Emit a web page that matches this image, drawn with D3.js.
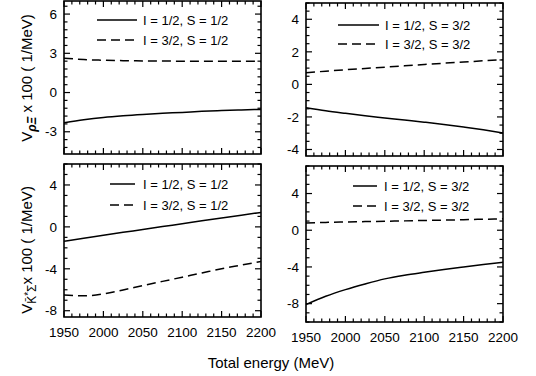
<!DOCTYPE html>
<html><head><meta charset="utf-8">
<script src="https://cdn.jsdelivr.net/npm/d3@7"></script>
<style>
body{margin:0;background:#fff;}
text{font-family:"Liberation Sans",Arial,Helvetica,sans-serif;fill:#000;}
</style></head><body>
<svg id="c" width="536" height="376"></svg>
<script>
// ---- data ----
const energy = [1950, 1975, 2000, 2025, 2050, 2075, 2100, 2125, 2150, 2175, 2200];
// top-left: rho Xi, S = 1/2
const tlSolid  = [-2.31, -2.08, -1.90, -1.77, -1.67, -1.59, -1.52, -1.44, -1.38, -1.33, -1.29];
const tlDashed = [2.63, 2.52, 2.47, 2.44, 2.42, 2.41, 2.40, 2.40, 2.39, 2.39, 2.38];
// top-right: rho Xi, S = 3/2
const trSolid  = [-1.43, -1.62, -1.78, -1.93, -2.06, -2.19, -2.32, -2.46, -2.62, -2.79, -2.98];
const trDashed = [0.72, 0.81, 0.90, 0.98, 1.06, 1.14, 1.22, 1.30, 1.37, 1.45, 1.52];
// bottom-left: Kbar* Sigma, S = 1/2
const blSolid  = [-1.37, -1.09, -0.80, -0.52, -0.25, 0.03, 0.30, 0.58, 0.85, 1.12, 1.38];
const blDashed = [-6.50, -6.58, -6.40, -6.02, -5.60, -5.20, -4.80, -4.40, -4.00, -3.65, -3.30];
// bottom-right: Kbar* Sigma, S = 3/2
const brSolid  = [-8.10, -7.20, -6.47, -5.85, -5.30, -4.90, -4.58, -4.28, -4.00, -3.73, -3.49];
const brDashed = [0.80, 0.85, 0.90, 0.94, 0.98, 1.02, 1.06, 1.10, 1.15, 1.20, 1.24];

const xTicks = [1950, 2000, 2050, 2100, 2150, 2200];
const legendS12 = ["I = 1/2, S = 1/2", "I = 3/2, S = 1/2"];
const legendS32 = ["I = 1/2, S = 3/2", "I = 3/2, S = 3/2"];

const panels = [
  {x0:64, x1:261, y0:1, y1:154, dom:[-4.7,7], ticks:[-3,0,3,6], minor:0.6,
   solid:tlSolid, dashed:tlDashed, leg:legendS12, lx0:97, lx1:137, ltx:143, ly:[20,40], xlabels:false},
  {x0:306, x1:503, y0:3, y1:156, dom:[-4.4,5], ticks:[-4,-2,0,2,4], minor:0.5,
   solid:trSolid, dashed:trDashed, leg:legendS32, lx0:338, lx1:379, ltx:385, ly:[25,44], xlabels:false},
  {x0:64, x1:261, y0:164, y1:317, dom:[-8.6,6], ticks:[-8,-4,0,4], minor:1,
   solid:blSolid, dashed:blDashed, leg:legendS12, lx0:110, lx1:135, ltx:143, ly:[184,205], xlabels:true},
  {x0:306, x1:503, y0:166, y1:322, dom:[-10,7], ticks:[-8,-4,0,4], minor:1,
   solid:brSolid, dashed:brDashed, leg:legendS32, lx0:353, lx1:377, ltx:384, ly:[186,206], xlabels:true}
];

const svg = d3.select("#c");
const DASH = "9,5";

panels.forEach((p, i) => {
  const x = d3.scaleLinear().domain([1950, 2200]).range([p.x0, p.x1]);
  const y = d3.scaleLinear().domain(p.dom).range([p.y1, p.y0]);
  const g = svg.append("g");
  const cid = "clip" + i;
  svg.append("clipPath").attr("id", cid).append("rect")
    .attr("x", p.x0).attr("y", p.y0).attr("width", p.x1 - p.x0).attr("height", p.y1 - p.y0);

  const minorX = d3.range(1950, 2200.001, 10);
  const majLen = 6, minLen = 3.5;
  minorX.forEach(v => {
    const len = (v % 50 === 0) ? majLen : minLen;
    g.append("line").attr("x1", x(v)).attr("x2", x(v)).attr("y1", p.y1).attr("y2", p.y1 - len).attr("stroke","#000").attr("stroke-width",1.2);
    g.append("line").attr("x1", x(v)).attr("x2", x(v)).attr("y1", p.y0).attr("y2", p.y0 + len).attr("stroke","#000").attr("stroke-width",1.2);
  });
  const nMinor = Math.round((p.dom[1] - p.dom[0]) / p.minor) + 2;
  const start = Math.ceil(p.dom[0] / p.minor) * p.minor;
  for (let k = 0; k < nMinor; k++) {
    const v = +(start + k * p.minor).toFixed(6);
    if (v > p.dom[1]) break;
    const isMaj = p.ticks.some(t => Math.abs(t - v) < 1e-6);
    const len = isMaj ? majLen : minLen;
    g.append("line").attr("x1", p.x0).attr("x2", p.x0 + len).attr("y1", y(v)).attr("y2", y(v)).attr("stroke","#000").attr("stroke-width",1.2);
    g.append("line").attr("x1", p.x1).attr("x2", p.x1 - len).attr("y1", y(v)).attr("y2", y(v)).attr("stroke","#000").attr("stroke-width",1.2);
  }
  p.ticks.forEach(t => {
    g.append("text").attr("x", p.x0 - 7).attr("y", y(t)).attr("dy", "0.35em")
      .attr("text-anchor", "end").attr("font-size", 13.5).text(t);
  });
  if (p.xlabels) {
    xTicks.forEach(t => {
      g.append("text").attr("x", x(t)).attr("y", p.y1 + 20).attr("text-anchor", "middle")
        .attr("font-size", 13.5).text(t);
    });
  }
  g.append("rect").attr("x", p.x0).attr("y", p.y0).attr("width", p.x1 - p.x0).attr("height", p.y1 - p.y0)
    .attr("fill", "none").attr("stroke", "#000").attr("stroke-width", 1.6);

  const line = d3.line().x((d, j) => x(energy[j])).y(d => y(d)).curve(d3.curveMonotoneX);
  g.append("path").attr("d", line(p.solid)).attr("fill","none").attr("stroke","#000").attr("stroke-width",1.5).attr("clip-path", `url(#${cid})`);
  g.append("path").attr("d", line(p.dashed)).attr("fill","none").attr("stroke","#000").attr("stroke-width",1.5).attr("stroke-dasharray", DASH).attr("clip-path", `url(#${cid})`);

  g.append("line").attr("x1", p.lx0).attr("x2", p.lx1).attr("y1", p.ly[0]).attr("y2", p.ly[0]).attr("stroke","#000").attr("stroke-width",1.5);
  g.append("line").attr("x1", p.lx0).attr("x2", p.lx1).attr("y1", p.ly[1]).attr("y2", p.ly[1]).attr("stroke","#000").attr("stroke-width",1.5).attr("stroke-dasharray", DASH);
  p.leg.forEach((s, j) => {
    g.append("text").attr("x", p.ltx).attr("y", p.ly[j]).attr("dy", "0.35em").attr("font-size", 13).text(s);
  });
});

const t1 = svg.append("text").attr("transform", "translate(32,78) rotate(-90)").attr("text-anchor","middle").attr("font-size",15);
t1.append("tspan").text("V");
t1.append("tspan").attr("dy", 4).attr("font-size", 12).attr("font-style","italic").attr("font-weight","bold").text("ρΞ");
t1.append("tspan").attr("dy", -4).text(" x 100 ( 1/MeV)");

const t2 = svg.append("text").attr("transform", "translate(32,250) rotate(-90)").attr("text-anchor","middle").attr("font-size",15);
t2.append("tspan").text("V");
t2.append("tspan").attr("dy", 4).attr("font-size", 12).text("K\u0304");
t2.append("tspan").attr("dy", -4).attr("font-size", 10).text("*");
t2.append("tspan").attr("dy", 4).attr("font-size", 12).text("Σ");
t2.append("tspan").attr("dy", -4).text("x 100 ( 1/MeV)");

svg.append("text").attr("x", 271).attr("y", 368).attr("text-anchor","middle").attr("font-size",15).text("Total energy (MeV)");
</script>
</body></html>
